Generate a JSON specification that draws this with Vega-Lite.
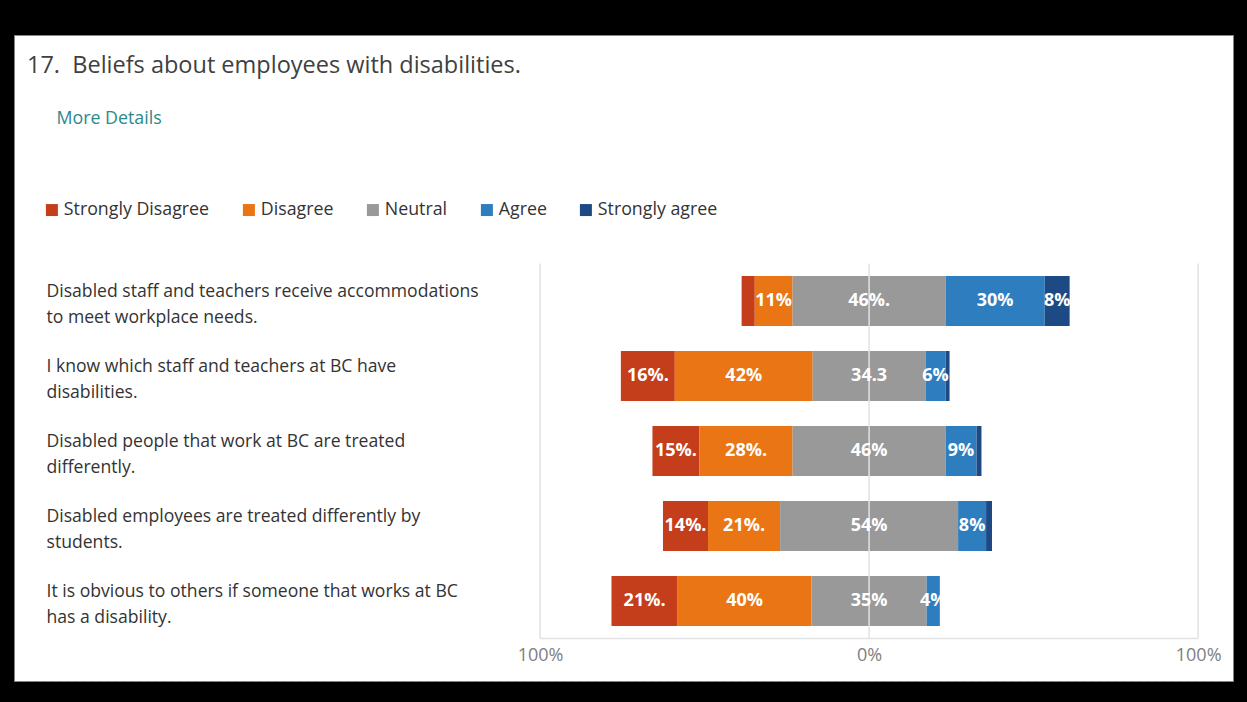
{
  "$schema": "https://vega.github.io/schema/vega-lite/v6.json",
  "width": 1219,
  "height": 646,
  "autosize": {"type": "none"},
  "padding": {"left": 14, "top": 35, "right": 14, "bottom": 21},
  "background": "black",
  "config": {
    "font": "Open Sans",
    "view": {"fill": "white", "stroke": "#888888", "strokeDash": [5, 3], "strokeWidth": 1}
  },
  "title": {
    "text": "17.\u00a0 Beliefs about employees with disabilities.",
    "anchor": "start",
    "frame": "group",
    "orient": "top",
    "baseline": "alphabetic",
    "offset": -61,
    "dx": 13,
    "fontSize": 23.5,
    "fontWeight": "normal",
    "color": "#404040",
    "font": "Open Sans"
  },
  "data": {
    "values": [
      {"question": "Disabled staff and teachers receive accommodations|to meet workplace needs.", "response": "Strongly Disagree", "value": 4.0, "label": ""},
      {"question": "Disabled staff and teachers receive accommodations|to meet workplace needs.", "response": "Disagree", "value": 11.5, "label": "11%"},
      {"question": "Disabled staff and teachers receive accommodations|to meet workplace needs.", "response": "Neutral", "value": 46.5, "label": "46%."},
      {"question": "Disabled staff and teachers receive accommodations|to meet workplace needs.", "response": "Agree", "value": 30.1, "label": "30%"},
      {"question": "Disabled staff and teachers receive accommodations|to meet workplace needs.", "response": "Strongly agree", "value": 7.6, "label": "8%"},
      {"question": "I know which staff and teachers at BC have|disabilities.", "response": "Strongly Disagree", "value": 16.4, "label": "16%."},
      {"question": "I know which staff and teachers at BC have|disabilities.", "response": "Disagree", "value": 41.9, "label": "42%"},
      {"question": "I know which staff and teachers at BC have|disabilities.", "response": "Neutral", "value": 34.3, "label": "34.3"},
      {"question": "I know which staff and teachers at BC have|disabilities.", "response": "Agree", "value": 6.1, "label": "6%"},
      {"question": "I know which staff and teachers at BC have|disabilities.", "response": "Strongly agree", "value": 1.2, "label": ""},
      {"question": "Disabled people that work at BC are treated|differently.", "response": "Strongly Disagree", "value": 14.3, "label": "15%."},
      {"question": "Disabled people that work at BC are treated|differently.", "response": "Disagree", "value": 28.3, "label": "28%."},
      {"question": "Disabled people that work at BC are treated|differently.", "response": "Neutral", "value": 46.5, "label": "46%"},
      {"question": "Disabled people that work at BC are treated|differently.", "response": "Agree", "value": 9.4, "label": "9%"},
      {"question": "Disabled people that work at BC are treated|differently.", "response": "Strongly agree", "value": 1.5, "label": ""},
      {"question": "Disabled employees are treated differently by|students.", "response": "Strongly Disagree", "value": 13.7, "label": "14%."},
      {"question": "Disabled employees are treated differently by|students.", "response": "Disagree", "value": 21.9, "label": "21%."},
      {"question": "Disabled employees are treated differently by|students.", "response": "Neutral", "value": 54.1, "label": "54%"},
      {"question": "Disabled employees are treated differently by|students.", "response": "Agree", "value": 8.5, "label": "8%"},
      {"question": "Disabled employees are treated differently by|students.", "response": "Strongly agree", "value": 1.8, "label": ""},
      {"question": "It is obvious to others if someone that works at BC|has a disability.", "response": "Strongly Disagree", "value": 20.1, "label": "21%."},
      {"question": "It is obvious to others if someone that works at BC|has a disability.", "response": "Disagree", "value": 40.7, "label": "40%"},
      {"question": "It is obvious to others if someone that works at BC|has a disability.", "response": "Neutral", "value": 35.0, "label": "35%"},
      {"question": "It is obvious to others if someone that works at BC|has a disability.", "response": "Agree", "value": 4.0, "label": "4%"}
    ]
  },
  "transform": [
    {"calculate": "indexof(['Strongly Disagree','Disagree','Neutral','Agree','Strongly agree'], datum.response)", "as": "rank"},
    {"calculate": "(datum.rank < 2 ? datum.value : 0) + (datum.rank == 2 ? datum.value / 2 : 0)", "as": "signed"},
    {"stack": "value", "groupby": ["question"], "sort": [{"field": "rank", "order": "ascending"}], "as": ["v1", "v2"]},
    {"joinaggregate": [{"op": "sum", "field": "signed", "as": "offset"}], "groupby": ["question"]},
    {"calculate": "datum.v1 - datum.offset", "as": "nx"},
    {"calculate": "datum.v2 - datum.offset", "as": "nx2"},
    {"calculate": "(datum.nx + datum.nx2) / 2", "as": "mid"}
  ],
  "encoding": {
    "y": {
      "field": "question",
      "type": "nominal",
      "sort": null,
      "scale": {"range": [203.5, 628.5], "paddingInner": 0.3333, "paddingOuter": 0.5, "align": 0.5},
      "axis": {
        "orient": "left",
        "offset": -32,
        "domain": false,
        "ticks": false,
        "labelPadding": 0,
        "labelAlign": "left",
        "labelBaseline": "middle",
        "labelOffset": -9,
        "labelExpr": "split(datum.label, '|')",
        "labelFontSize": 17.6,
        "labelLineHeight": 26,
        "labelColor": "#333333",
        "labelLimit": 600,
        "title": "More Details",
        "titleAngle": 0,
        "titleAlign": "left",
        "titleBaseline": "alphabetic",
        "titleX": 10,
        "titleY": 88,
        "titleColor": "#2a8a8c",
        "titleFontSize": 17.8,
        "titleFontWeight": "normal"
      }
    }
  },
  "layer": [
    {
      "mark": {"type": "bar"},
      "encoding": {
        "x": {
          "field": "nx",
          "type": "quantitative",
          "scale": {"domain": [-259.9, 110.6], "nice": false, "zero": false},
          "axis": {
            "values": [-100, 0, 100],
            "labelExpr": "abs(datum.value) + '%'",
            "offset": -43,
            "domain": false,
            "ticks": false,
            "grid": false,
            "labelPadding": 8,
            "labelFontSize": 18,
            "labelColor": "#808080",
            "title": null
          }
        },
        "x2": {"field": "nx2"},
        "color": {
          "field": "response",
          "type": "nominal",
          "scale": {
            "domain": ["Strongly Disagree", "Disagree", "Neutral", "Agree", "Strongly agree"],
            "range": ["#c43e1c", "#e97514", "#999999", "#2e7ebf", "#1d4a84"]
          },
          "legend": {
            "orient": "none",
            "legendX": 29,
            "legendY": 166,
            "direction": "horizontal",
            "title": null,
            "symbolType": "square",
            "symbolSize": 144,
            "symbolStrokeWidth": 0,
            "labelFontSize": 17.8,
            "labelColor": "#333333",
            "labelOffset": 3,
            "columnPadding": 30
          }
        }
      }
    },
    {
      "data": {"values": [{}]},
      "mark": {"type": "rule", "color": "#e2e2e2", "strokeWidth": 1.5, "yOffset": -37.5, "y2Offset": 37.5},
      "encoding": {
        "x": {"datum": -100},
        "y": {"datum": "Disabled staff and teachers receive accommodations|to meet workplace needs."},
        "y2": {"datum": "It is obvious to others if someone that works at BC|has a disability."}
      }
    },
    {
      "data": {"values": [{}]},
      "mark": {"type": "rule", "color": "#e2e2e2", "strokeWidth": 1.5, "yOffset": -37.5, "y2Offset": 37.5},
      "encoding": {
        "x": {"datum": 100},
        "y": {"datum": "Disabled staff and teachers receive accommodations|to meet workplace needs."},
        "y2": {"datum": "It is obvious to others if someone that works at BC|has a disability."}
      }
    },
    {
      "data": {"values": [{}]},
      "mark": {"type": "rule", "color": "#e2e2e2", "strokeWidth": 1.5, "yOffset": -37.5, "y2Offset": 37.5},
      "encoding": {
        "x": {"datum": 0},
        "y": {"datum": "Disabled staff and teachers receive accommodations|to meet workplace needs."},
        "y2": {"datum": "It is obvious to others if someone that works at BC|has a disability."}
      }
    },
    {
      "data": {"values": [{}]},
      "mark": {"type": "rule", "color": "#e2e2e2", "strokeWidth": 1.5, "yOffset": 37.5},
      "encoding": {
        "x": {"datum": -100},
        "x2": {"datum": 100},
        "y": {"datum": "It is obvious to others if someone that works at BC|has a disability."}
      }
    },
    {
      "mark": {"type": "text", "color": "white", "fontSize": 18, "fontWeight": "bold", "align": "center", "baseline": "middle", "font": "Open Sans"},
      "encoding": {
        "x": {"field": "mid", "type": "quantitative"},
        "text": {"field": "label", "type": "nominal"}
      }
    }
  ]
}
